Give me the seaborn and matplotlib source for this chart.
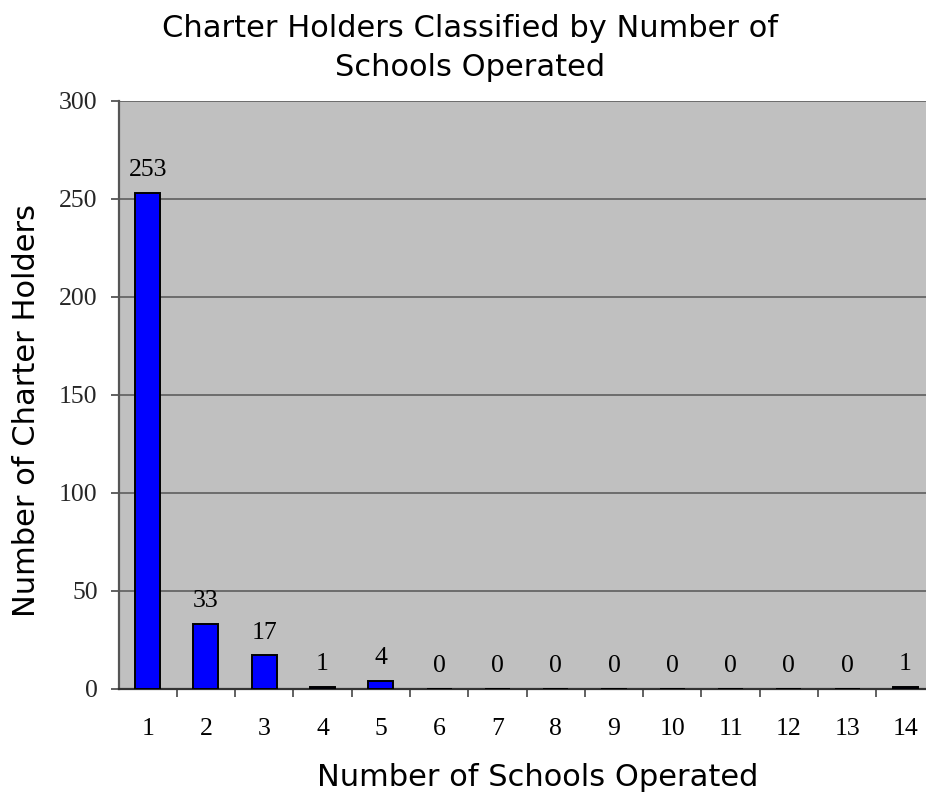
import matplotlib
matplotlib.use("Agg")
import matplotlib.pyplot as plt
import seaborn as sns
import numpy as np
from matplotlib.ticker import FixedLocator

categories = ["1", "2", "3", "4", "5", "6", "7", "8", "9", "10", "11", "12", "13", "14"]
values = [253, 33, 17, 1, 4, 0, 0, 0, 0, 0, 0, 0, 0, 1]
yticks = [0, 50, 100, 150, 200, 250, 300]

title = "Charter Holders Classified by Number of\nSchools Operated"
xlabel = "Number of Schools Operated"
ylabel = "Number of Charter Holders"

sns.set_theme(style="white")
plt.rcParams["font.family"] = ["DejaVu Sans"]

W, H = 926, 799
fig = plt.figure(figsize=(W / 100, H / 100), dpi=100)
ax_left, ax_right, ax_top, ax_bottom = 118.5, 934.6, 100.7, 688.5
ax = fig.add_axes([ax_left / W, 1 - ax_bottom / H, (ax_right - ax_left) / W,
                   (ax_bottom - ax_top) / H])
ax.set_facecolor("#C0C0C0")

sns.barplot(x=categories, y=values, color="#0000FF", saturation=1, width=0.43,
            edgecolor="black", linewidth=1.4, ax=ax, zorder=3)

ax.set_ylim(0, 300)
ax.set_xlim(-0.5, len(categories) - 0.5)
ax.set_yticks(yticks)
ax.yaxis.grid(True, color="#666666", linewidth=1.3, zorder=1)
ax.set_axisbelow(True)

serif = "Liberation Serif"
fs_tick = 18.5
ax.set_yticklabels([str(t) for t in yticks], fontfamily=serif, fontsize=fs_tick)
ax.set_xticks(range(len(categories)))
ax.set_xticklabels(categories, fontfamily=serif, fontsize=fs_tick)
ax.tick_params(axis="x", length=0, pad=21, colors="black")
ax.tick_params(axis="y", length=6, width=1.3, color="#555555", pad=9, left=True)
ax.xaxis.set_minor_locator(FixedLocator(np.arange(0.5, len(categories) - 0.5, 1.0)))
ax.tick_params(axis="x", which="minor", length=6, width=1.3, color="#555555", bottom=True)

for s in ["top", "right"]:
    ax.spines[s].set_visible(False)
ax.spines["left"].set_color("#555555")
ax.spines["left"].set_linewidth(1.6)
ax.spines["bottom"].set_color("#333333")
ax.spines["bottom"].set_linewidth(1.6)

for i, v in enumerate(values):
    ax.annotate(str(v), xy=(i, v), xytext=(0, 12), textcoords="offset points",
                ha="center", va="baseline", fontfamily=serif, fontsize=fs_tick,
                color="black")

fs_lab = 22
ax.set_xlabel(xlabel, fontsize=fs_lab, color="black")
ax.set_ylabel(ylabel, fontsize=fs_lab, color="black")
axw = ax_right - ax_left
axh = ax_bottom - ax_top
ax.xaxis.label.set_va("center")
ax.yaxis.label.set_va("center")
ax.xaxis.set_label_coords((538 - ax_left) / axw, (ax_bottom - 777) / axh)
ax.yaxis.set_label_coords((27 - ax_left) / axw, (ax_bottom - 410.5) / axh)

fig.text(470 / W, 1 - 48 / H, title, ha="center", va="center", fontsize=fs_lab,
         linespacing=1.45, color="black")

fig.savefig("out.png", dpi=100)
